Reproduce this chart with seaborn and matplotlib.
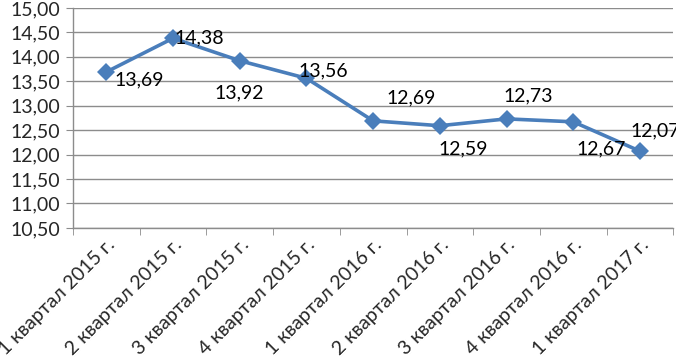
import pandas as pd
import matplotlib
matplotlib.use("Agg")
import matplotlib.pyplot as plt
import seaborn as sns

# данные
periods = ["1 квартал 2015 г.", "2 квартал 2015 г.", "3 квартал 2015 г.",
           "4 квартал 2015 г.", "1 квартал 2016 г.", "2 квартал 2016 г.",
           "3 квартал 2016 г.", "4 квартал 2016 г.", "1 квартал 2017 г."]
values = [13.69, 14.38, 13.92, 13.56, 12.69, 12.59, 12.73, 12.67, 12.07]
y_ticks = [10.5, 11.0, 11.5, 12.0, 12.5, 13.0, 13.5, 14.0, 14.5, 15.0]

# смещения подписей (пиксели)
label_offsets = [(33, -8), (26, 0), (-1, -32), (17, 7), (38, 23),
                 (23, -23), (22, 23), (28, -27), (15, 20)]

df = pd.DataFrame({"period": periods, "value": values})

sns.set_style("white")
plt.rcParams["font.family"] = ["Lato", "DejaVu Sans"]

fig = plt.figure(figsize=(6.76, 3.6), dpi=100)
ax = fig.add_axes([0.108, 0.367, 0.888, 0.611])

grid_color = "#8c8c8c"
for y in y_ticks:
    ax.axhline(y, color=grid_color, linewidth=1, zorder=0)

sns.lineplot(data=df, x="period", y="value", ax=ax, color="#4a7ebb",
             linewidth=2.6, marker="D", markersize=9.5, markeredgewidth=0,
             sort=False, zorder=3)

for i, (v, off) in enumerate(zip(values, label_offsets)):
    ax.annotate(f"{v:.2f}".replace(".", ","), (i, v), xytext=off,
                textcoords="offset pixels", ha="center", va="center",
                fontsize=14, color="black")

ax.set_ylim(10.5, 15.0)
ax.set_yticks(y_ticks)
ax.set_yticklabels([f"{t:.2f}".replace(".", ",") for t in y_ticks], fontsize=14)
ax.set_xlim(-0.5, len(periods) - 0.5)
ax.set_xticks(range(len(periods)))
ax.set_xticklabels(periods, rotation=45, ha="right", rotation_mode="anchor",
                   fontsize=14)
ax.set_xticks([i - 0.5 for i in range(len(periods) + 1)], minor=True)
ax.tick_params(axis="x", which="major", length=0, pad=6)
ax.tick_params(axis="x", which="minor", length=5, color=grid_color,
               direction="out", bottom=True)
ax.tick_params(axis="y", length=5, color=grid_color, direction="out", left=True, pad=4)
ax.set_xlabel("")
ax.set_ylabel("")

for side in ["top", "right"]:
    ax.spines[side].set_visible(False)
for side in ["left", "bottom"]:
    ax.spines[side].set_color(grid_color)
    ax.spines[side].set_linewidth(1)

fig.savefig("out.png", dpi=100)
